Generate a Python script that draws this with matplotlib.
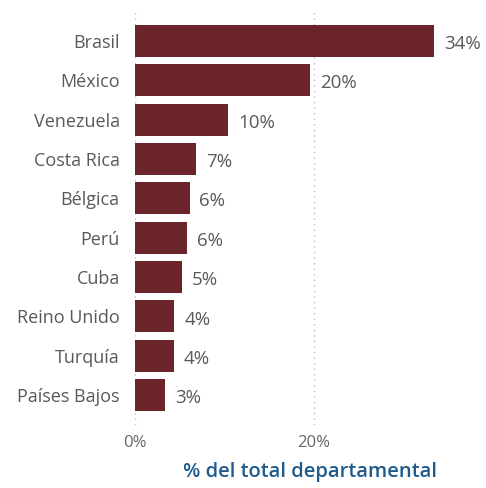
import matplotlib

matplotlib.use("Agg")

import matplotlib.pyplot as plt
import numpy as np

plt.rcParams["font.family"] = ["Open Sans", "DejaVu Sans"]

countries = [
    "Brasil",
    "México",
    "Venezuela",
    "Costa Rica",
    "Bélgica",
    "Perú",
    "Cuba",
    "Reino Unido",
    "Turquía",
    "Países Bajos",
]
shares = [33.5, 19.6, 10.4, 6.8, 6.1, 5.8, 5.2, 4.4, 4.3, 3.4]
value_labels = ["34%", "20%", "10%", "7%", "6%", "6%", "5%", "4%", "4%", "3%"]
x_ticks = [0, 20]
x_tick_labels = ["0%", "20%"]

BAR_COLOR = "#6A242A"
TEXT_COLOR = "#595959"
TITLE_COLOR = "#1F5B8C"

fig = plt.figure(figsize=(4.86, 4.88), dpi=100)
ax = fig.add_axes([0.278, 0.129, 0.662, 0.851])

y = np.arange(len(countries))
bars = ax.barh(y, shares, height=0.81, color=BAR_COLOR, zorder=2)

for bar, label in zip(bars, value_labels):
    ax.text(
        bar.get_width() + 1.1,
        bar.get_y() + bar.get_height() / 2 + 0.08,
        label,
        va="center",
        ha="left",
        fontsize=13.5,
        color=TEXT_COLOR,
    )

ax.set_xlim(0, 36)
ax.set_ylim(len(countries) - 1 + 0.76, -0.79)
ax.set_yticks(y)
ax.set_yticklabels(countries, fontsize=13, color=TEXT_COLOR)
ax.set_xticks(x_ticks)
ax.set_xticklabels(x_tick_labels, fontsize=12, color="#666666")
ax.tick_params(axis="both", length=0)
ax.tick_params(axis="y", pad=11)
ax.tick_params(axis="x", pad=7)

for xv in x_ticks:
    ax.axvline(xv, color="#BDBDBD", linestyle=(0, (1, 3)), linewidth=1, zorder=1)

for spine in ax.spines.values():
    spine.set_visible(False)

ax.set_xlabel(
    "% del total departamental",
    fontsize=14.5,
    fontweight="semibold",
    color=TITLE_COLOR,
)
ax.xaxis.set_label_coords(0.544, -0.09)

fig.savefig("out.png", dpi=100)
plt.close(fig)
